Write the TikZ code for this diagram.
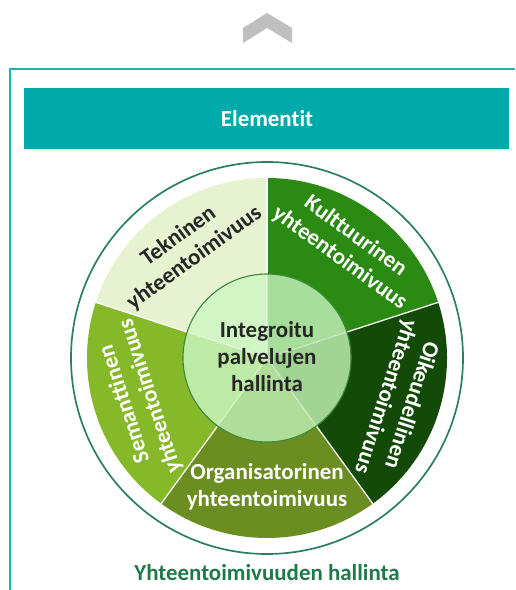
\documentclass[tikz,border=0pt]{standalone}
\usepackage{fontspec}
\setmainfont{Carlito}[Ligatures=NoCommon]
\definecolor{chevgrey}{HTML}{BFBFBF}
\definecolor{framecol}{HTML}{1BB3B3}
\definecolor{headcol}{HTML}{00AAAA}
\definecolor{ringcol}{HTML}{2A7F5F}
\definecolor{footcol}{HTML}{1F7A4A}
\definecolor{tekcol}{HTML}{E6F2D0}
\definecolor{kulcol}{HTML}{2A8A12}
\definecolor{oikcol}{HTML}{144A08}
\definecolor{orgcol}{HTML}{6B8E22}
\definecolor{semcol}{HTML}{86B92A}
\definecolor{tekin}{HTML}{D2F5C6}
\definecolor{kulin}{HTML}{A8DE9C}
\definecolor{oikin}{HTML}{A2D494}
\definecolor{orgin}{HTML}{B0DE98}
\definecolor{semin}{HTML}{BDEBA5}
\definecolor{innerring}{HTML}{3C8A3C}
\tikzset{
    bigfont/.style={font=\bfseries\fontsize{16.3}{19.2}\selectfont},
    seglabel/.style={bigfont, align=center, text=white, inner sep=0pt},
    headtext/.style={bigfont, text=white},
}

\begin{document}
\begin{tikzpicture}[x=0.025cm, y=0.025cm]
\useasboundingbox (-267,-232) rectangle (248,358);
% chevron and frame
\fill[chevgrey] (-24,330) -- (0,345) -- (25,330) -- (25,315) -- (0,330) -- (-24,315) -- cycle;
\draw[framecol, line width=2.1pt] (-257,-232) -- (-257,289) -- (248,289);
\fill[headcol] (-243,209) rectangle (242,270);
\node[headtext] (elem) at (0,239.5) {Elementit};

% ring and sectors
\draw[ringcol, line width=1.2pt] (0,0) circle[radius=196];
\foreach \a/\b/\c in {90/162/tekcol, 18/90/kulcol, -54/18/oikcol, -126/-54/orgcol, 162/234/semcol}
    \fill[\c] (0,0) -- (\a:180) arc[start angle=\a, end angle=\b, radius=180] -- cycle;
\foreach \a/\b/\c in {90/162/tekin, 18/90/kulin, -54/18/oikin, -126/-54/orgin, 162/234/semin}
    \fill[\c] (0,0) -- (\a:84) arc[start angle=\a, end angle=\b, radius=84] -- cycle;
\foreach \a in {90,18,-54,-126,162} {
    \draw[white, line width=0.9pt] (\a:84) -- (\a:180);
    \draw[white, opacity=0.45, line width=0.9pt] (0,0) -- (\a:84);
}
\draw[innerring, line width=0.8pt] (0,0) circle[radius=84];

% labels
\node[seglabel, text=black!85, rotate=36] (tekn) at (126:137) {Tekninen\\yhteentoimivuus};
\node[seglabel, rotate=-36] (kult) at (54:137) {Kulttuurinen\\yhteentoimivuus};
\node[seglabel, rotate=-108] (oike) at (-18:138) {Oikeudellinen\\yhteentoimivuus};
\node[seglabel] (orga) at (0,-129) {Organisatorinen\\yhteentoimivuus};
\node[seglabel, rotate=108] (sema) at (198:136) {Semanttinen\\yhteentoimivuus};
\node[seglabel, text=black!85] (inte) at (0,1) {Integroitu\\palvelujen\\hallinta};

\node[bigfont, text=footcol] (foot) at (0,-215) {Yhteentoimivuuden hallinta};
\end{tikzpicture}
\end{document}
